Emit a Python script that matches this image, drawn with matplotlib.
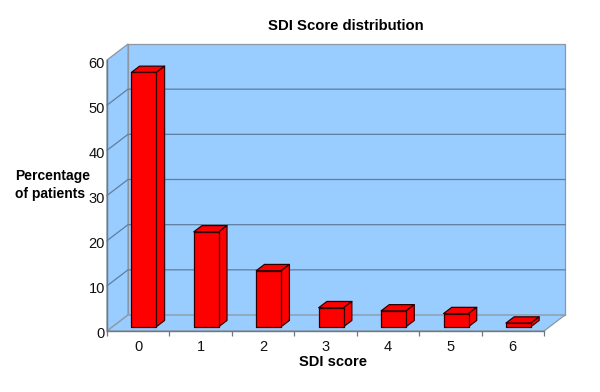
#!/usr/bin/env python3
from matplotlib import pyplot as plt
from matplotlib.patches import Polygon
from matplotlib.transforms import ScaledTranslation

scores = [0, 1, 2, 3, 4, 5, 6]
percent = [56.3, 21.0, 12.4, 4.2, 3.5, 2.9, 0.8]
y_ticks = [0, 10, 20, 30, 40, 50, 60]

WALL = '#99ccff'
EDGE = '#8c97a3'
GRID = '#5f7f9f'
RED = '#ff0000'
BAR_EDGE = '#300000'

# depth of the fake 3D box, in data units
DX = 21 / 62.4
DY = 16 / 4.517


def shift(x, y, d):
    return (x + DX * d, y + DY * d)


def poly(ax, pts, fc, ec, lw=0.9, z=2):
    ax.add_patch(Polygon(pts, closed=True, facecolor=fc, edgecolor=ec, linewidth=lw,
                         zorder=z, clip_on=False, joinstyle='round'))


def bar3d(ax, x, h, w=0.2, d0=0.27, d1=0.66):
    l, r = x - w, x + w
    poly(ax, [shift(l, h, d0), shift(r, h, d0), shift(r, h, d1), shift(l, h, d1)], RED, BAR_EDGE, z=4)
    poly(ax, [shift(r, 0, d0), shift(r, 0, d1), shift(r, h, d1), shift(r, h, d0)], RED, BAR_EDGE, z=4)
    poly(ax, [shift(l, 0, d0), shift(r, 0, d0), shift(r, h, d0), shift(l, h, d0)], RED, BAR_EDGE, z=5)


def main():
    plt.rcParams['font.family'] = ['Liberation Sans', 'DejaVu Sans']
    fig = plt.figure(figsize=(6, 3.92), dpi=100)
    ax = fig.add_axes([107 / 600, 1 - 331 / 392, 437 / 600, 271 / 392])
    ax.set_xlim(-0.5, 6.5)
    ax.set_ylim(0, 60)
    ax.patch.set_visible(False)

    # walls and floor
    x0, x1 = -0.5, 6.5
    poly(ax, [shift(x0, 0, 1), shift(x1, 0, 1), shift(x1, 60, 1), shift(x0, 60, 1)], WALL, EDGE, z=1)
    poly(ax, [(x0, 0), shift(x0, 0, 1), shift(x0, 60, 1), (x0, 60)], WALL, EDGE, z=1)
    poly(ax, [(x0, 0), (x1, 0), shift(x1, 0, 1), shift(x0, 0, 1)], WALL, EDGE, z=1)

    for v in y_ticks[1:-1]:
        ax.plot(*zip((x0, v), shift(x0, v, 1), shift(x1, v, 1)), color=GRID, lw=0.9, zorder=2,
                clip_on=False)

    for s, p in zip(scores, percent):
        bar3d(ax, s, p)

    for side in ('top', 'right'):
        ax.spines[side].set_visible(False)
    for side in ('left', 'bottom'):
        ax.spines[side].set_color('#707880')
        ax.spines[side].set_linewidth(1.0)
        ax.spines[side].set_zorder(3)

    ax.set_yticks(y_ticks)
    ax.tick_params(axis='y', length=0, pad=1.5, labelsize=10.5, colors='#111111')
    # labels sit a little under their tick in the original
    nudge = ScaledTranslation(0, -2 / 100, fig.dpi_scale_trans)
    for t in ax.get_yticklabels():
        t.set_transform(t.get_transform() + nudge)
    ax.set_xticks(scores)
    ax.set_xticklabels([str(s) for s in scores])
    ax.set_xticks([s + 0.5 for s in [-1] + scores], minor=True)
    ax.tick_params(axis='x', which='major', length=0, pad=6.5, labelsize=10.5, colors='#111111')
    ax.tick_params(axis='x', which='minor', length=3.5, width=0.9, color='#707880', direction='out')

    fig.text(345.5 / 600, 1 - 26 / 392, 'SDI Score distribution', ha='center', va='center',
             fontsize=10.75, fontweight='bold')
    fig.text(333 / 600, 1 - 362 / 392, 'SDI score', ha='center', va='center',
             fontsize=10.5, fontweight='bold')
    fig.text(15 / 600, 1 - 185 / 392, 'Percentage\nof patients', ha='left', va='center',
             fontsize=10, fontweight='bold', linespacing=1.35)

    fig.savefig('out.png', dpi=100)


if __name__ == '__main__':
    main()
